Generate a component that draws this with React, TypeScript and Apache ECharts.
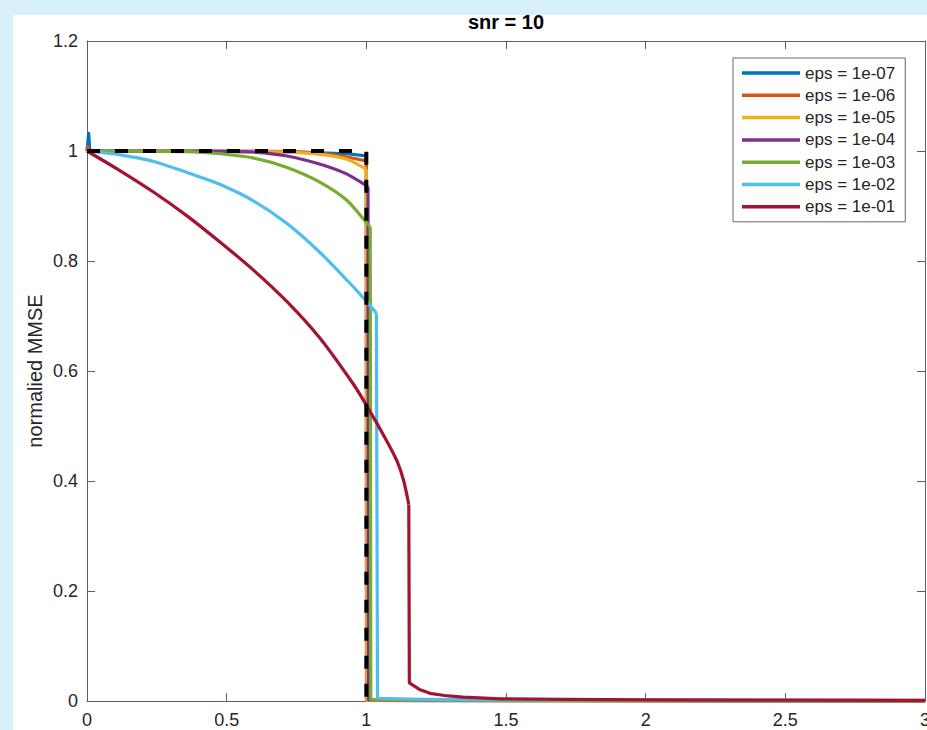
import React, { useEffect, useRef } from "react";
import * as echarts from "echarts";

const FONT = "'Liberation Sans', Arial, Helvetica, sans-serif";

const titleText = "snr = 10";
const yAxisTitle = "normalied MMSE";
const xMin = 0, xMax = 3, xStep = 0.5;
const yMin = 0, yMax = 1.2, yStep = 0.2;

const seriesNames = [
  "eps = 1e-07",
  "eps = 1e-06",
  "eps = 1e-05",
  "eps = 1e-04",
  "eps = 1e-03",
  "eps = 1e-02",
  "eps = 1e-01",
];
const seriesColors = ["#0072BD", "#D95319", "#EDB120", "#7E2F8E", "#77AC30", "#4DBEEE", "#A2142F"];

// Each curve: a smooth decaying part up to the jump, then the jump and the tail near zero.
const eps7Head: number[][] = [[0, 1], [0.002, 1.0], [0.006, 1.032], [0.01, 1.0], [0.716, 0.999], [0.931, 0.995], [1.0, 0.991]];
const eps7Tail: number[][] = [[1.0, 0.991], [1.0005, 0.001], [3, 0]];
const eps6Head: number[][] = [[0, 1], [0.002, 1.008], [0.006, 1.0], [0.716, 0.999], [0.835, 0.996], [0.931, 0.989], [1.0, 0.982]];
const eps6Tail: number[][] = [[1.0, 0.982], [1.001, 0.001], [3, 0]];
const eps5Head: number[][] = [[0, 1], [0.597, 0.999], [0.716, 0.998], [0.835, 0.994], [0.931, 0.985], [1.0, 0.967]];
const eps5Tail: number[][] = [[1.0, 0.967], [1.002, 0.001], [3, 0]];
const eps4Head: number[][] = [[0, 1], [0.358, 1.0], [0.477, 0.9995], [0.597, 0.998], [0.716, 0.991], [0.835, 0.976], [0.931, 0.958], [1.0, 0.937], [1.006, 0.935]];
const eps4Tail: number[][] = [[1.006, 0.935], [1.008, 0.002], [3, 0]];
const eps3Head: number[][] = [[0, 1], [0.239, 0.9995], [0.358, 0.999], [0.477, 0.995], [0.597, 0.987], [0.716, 0.97], [0.835, 0.943], [0.931, 0.91], [1.0, 0.87], [1.014, 0.862]];
const eps3Tail: number[][] = [[1.014, 0.862], [1.016, 0.003], [1.5, 0.001], [3, 0]];
const eps2Head: number[][] = [[0, 1], [0.119, 0.993], [0.239, 0.981], [0.358, 0.961], [0.477, 0.939], [0.597, 0.909], [0.716, 0.868], [0.835, 0.815], [0.931, 0.765], [1.0, 0.727], [1.036, 0.705]];
const eps2Tail: number[][] = [[1.036, 0.705], [1.04, 0.005], [1.2, 0.003], [1.6, 0.002], [3, 0.001]];
const eps1Head: number[][] = [[0, 1], [0.119, 0.964], [0.239, 0.925], [0.358, 0.882], [0.477, 0.834], [0.597, 0.783], [0.716, 0.726], [0.835, 0.659], [0.955, 0.575], [1.0, 0.538], [1.074, 0.472], [1.11, 0.436], [1.134, 0.4], [1.152, 0.357]];
const eps1Tail: number[][] = [[1.152, 0.357], [1.154, 0.033], [1.19, 0.021], [1.228, 0.014], [1.28, 0.01], [1.346, 0.007], [1.48, 0.004], [1.7, 0.003], [2, 0.002], [2.5, 0.0015], [3, 0.001]];
const boundary: number[][] = [[0, 1], [1, 1], [1, 0]];

const heads = [eps7Head, eps6Head, eps5Head, eps4Head, eps3Head, eps2Head, eps1Head];
const tails = [eps7Tail, eps6Tail, eps5Tail, eps4Tail, eps3Tail, eps2Tail, eps1Tail];
const headSmooth = [false, false, 0.25, 0.25, 0.25, 0.25, 0.25];

export default function App() {
  const ref = useRef<HTMLDivElement>(null);
  useEffect(() => {
    document.body.style.margin = "0";
    if (!ref.current) return;
    const chart = echarts.init(ref.current, null, { renderer: "svg" });
    const axisLineColor = "#5f5f5f";
    const labelColor = "#262626";
    const baseX = {
      type: "value",
      min: xMin,
      max: xMax,
      interval: xStep,
      axisLine: { show: true, onZero: false, lineStyle: { color: axisLineColor, width: 1 } },
      axisTick: { show: true, inside: true, length: 8, lineStyle: { color: axisLineColor } },
      splitLine: { show: false },
    };
    const baseY = {
      type: "value",
      min: yMin,
      max: yMax,
      interval: yStep,
      axisLine: { show: true, onZero: false, lineStyle: { color: axisLineColor, width: 1 } },
      axisTick: { show: true, inside: true, length: 8, lineStyle: { color: axisLineColor } },
      splitLine: { show: false },
    };
    const lineSeries: any[] = [];
    heads.forEach((h, i) => {
      const common = {
        name: seriesNames[i],
        type: "line",
        symbol: "none",
        showSymbol: false,
        color: seriesColors[i],
        lineStyle: { color: seriesColors[i], width: 3.2, join: "round" },
        clip: false,
      };
      lineSeries.push({ ...common, data: h, smooth: headSmooth[i] });
      lineSeries.push({ ...common, data: tails[i], smooth: false });
    });
    const option: any = {
      animation: false,
      backgroundColor: "transparent",
      textStyle: { fontFamily: FONT },
      grid: { left: 87, right: 2, top: 41, bottom: 29, containLabel: false, outerBoundsMode: "none" },
      xAxis: [
        {
          ...baseX,
          position: "bottom",
          axisLabel: { color: labelColor, fontSize: 18, fontFamily: FONT, margin: 10 },
        },
        { ...baseX, position: "top", axisLabel: { show: false } },
      ],
      yAxis: [
        {
          ...baseY,
          position: "left",
          axisLabel: { color: labelColor, fontSize: 18, fontFamily: FONT, margin: 9 },
        },
        { ...baseY, position: "right", axisLabel: { show: false } },
      ],
      legend: {
        data: seriesNames,
        orient: "vertical",
        left: 733,
        top: 58,
        backgroundColor: "#ffffff",
        borderColor: "#666666",
        borderWidth: 1,
        borderRadius: 0,
        padding: [5, 10, 5, 9],
        itemGap: 2.3,
        itemWidth: 58,
        itemHeight: 3.5,
        icon: "rect",
        textStyle: { color: labelColor, fontSize: 17, fontFamily: FONT, lineHeight: 20 },
      },
      graphic: [
        {
          type: "text",
          x: 506,
          y: 22,
          style: {
            text: titleText,
            fill: "#000",
            font: `bold 20px ${FONT}`,
            align: "center",
            verticalAlign: "middle",
          },
        },
        {
          type: "text",
          x: 35,
          y: 371,
          rotation: Math.PI / 2,
          style: {
            text: yAxisTitle,
            fill: labelColor,
            font: `20px ${FONT}`,
            align: "center",
            verticalAlign: "middle",
          },
        },
      ],
      series: [
        ...lineSeries,
        {
          name: "boundary",
          type: "line",
          data: boundary,
          symbol: "none",
          showSymbol: false,
          color: "#000",
          lineStyle: { color: "#000", width: 4, type: [13, 15], cap: "butt" },
          clip: false,
        },
      ],
    };
    chart.setOption(option);
    return () => chart.dispose();
  }, []);
  return (
    <div style={{ position: "relative", width: 927, height: 730, background: "#d8effc", overflow: "hidden" }}>
      <div style={{ position: "absolute", left: 13, top: 15, right: 0, bottom: 0, background: "#ffffff" }} />
      <div ref={ref} style={{ position: "absolute", left: 0, top: 0, width: 927, height: 730 }} />
    </div>
  );
}
